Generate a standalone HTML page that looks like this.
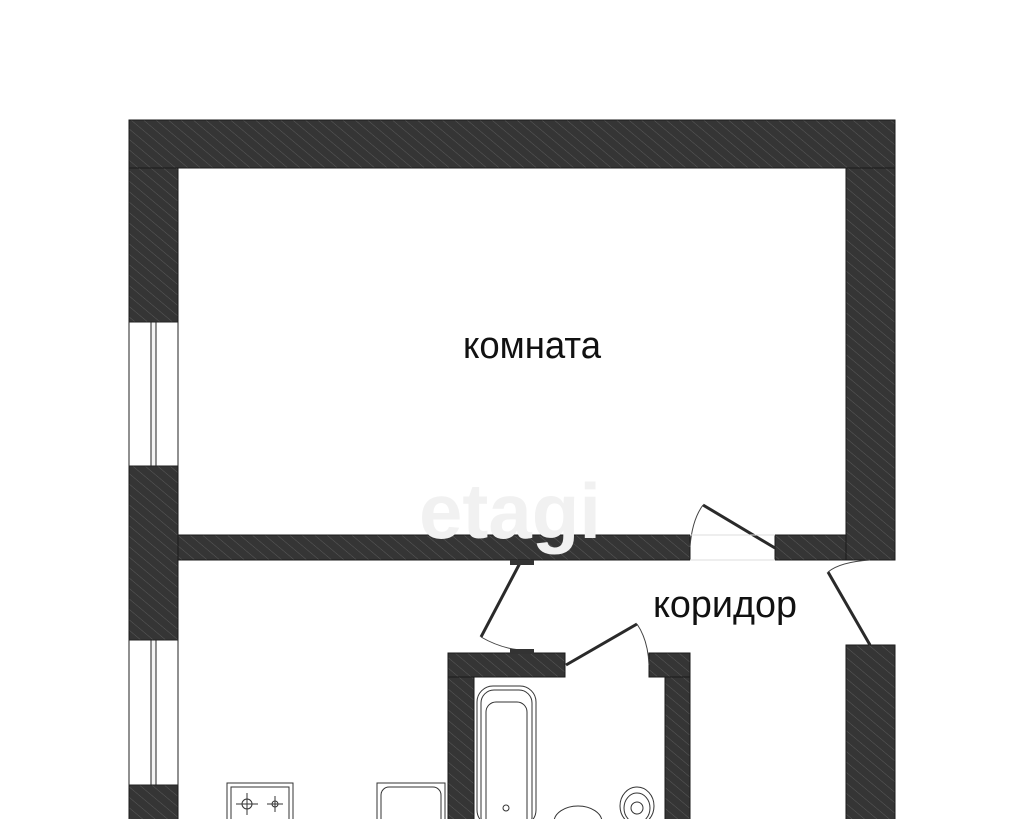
<!DOCTYPE html>
<html><head><meta charset="utf-8"><style>
html,body{margin:0;padding:0;background:#fff;width:1024px;height:819px;overflow:hidden}
svg{display:block}
</style></head><body>
<svg width="1024" height="819" viewBox="0 0 1024 819" xmlns="http://www.w3.org/2000/svg">
<defs>
<pattern id="h" width="8" height="8" patternUnits="userSpaceOnUse" patternTransform="rotate(-50)">
<rect width="8" height="8" fill="#353535"/>
<line x1="0" y1="0" x2="0" y2="8" stroke="#5a5a5a" stroke-width="1"/>
</pattern>
</defs>
<g fill="url(#h)" stroke="#1a1a1a" stroke-width="1">
<rect x="129" y="120" width="766" height="48"/>
<rect x="129" y="168" width="49" height="154"/>
<rect x="129" y="466" width="49" height="174"/>
<rect x="129" y="785" width="49" height="40"/>
<rect x="846" y="168" width="49" height="392"/>
<rect x="846" y="645" width="49" height="180"/>
<rect x="178" y="535" width="512" height="25"/>
<rect x="775" y="535" width="71" height="25"/>
<rect x="448" y="653" width="117" height="24"/>
<rect x="649" y="653" width="41" height="24"/>
<rect x="448" y="677" width="26" height="150"/>
<rect x="665" y="677" width="25" height="150"/>
</g>
<g fill="#fff" stroke="#222" stroke-width="1">
<rect x="129" y="322" width="49" height="144"/>
<rect x="151" y="322" width="5" height="144" fill="#f4f4f4"/>
<rect x="129" y="640" width="49" height="145"/>
<rect x="151" y="640" width="5" height="145" fill="#f4f4f4"/>
</g>
<g stroke="#2a2a2a" stroke-width="3" fill="none">
<line x1="520" y1="563" x2="481" y2="637"/>
<line x1="566" y1="665" x2="637" y2="624"/>
<line x1="703" y1="505" x2="775" y2="548"/>
<line x1="828" y1="572" x2="870" y2="645"/>
</g>
<g stroke="#444" stroke-width="1" fill="none">
<path d="M481 637 Q500 648 520 650"/>
<path d="M637 624 Q648 640 649 665"/>
<path d="M703 505 Q692 520 690 547"/>
<path d="M828 572 Q840 562 870 560"/>
<line x1="690" y1="535" x2="775" y2="535" stroke="#ddd"/>
<line x1="690" y1="560" x2="775" y2="560" stroke="#ddd"/>
</g>
<rect x="510" y="560" width="24" height="5" fill="#333"/>
<rect x="510" y="649" width="24" height="5" fill="#333"/>
<g stroke="#333" fill="none" stroke-width="1">
<rect x="227" y="783" width="66" height="40"/>
<rect x="231" y="787" width="58" height="36"/>
<circle cx="247" cy="804" r="5"/><line x1="236" y1="804" x2="258" y2="804"/><line x1="247" y1="793" x2="247" y2="815"/>
<circle cx="275" cy="804" r="3"/><line x1="267" y1="804" x2="283" y2="804"/><line x1="275" y1="796" x2="275" y2="812"/>
<rect x="377" y="783" width="68" height="40"/>
<rect x="381" y="787" width="60" height="40" rx="8"/>
<rect x="477" y="686" width="59" height="140" rx="16"/>
<rect x="481" y="690" width="51" height="140" rx="13"/>
<rect x="486" y="702" width="41" height="130" rx="10"/>
<circle cx="506" cy="808" r="3"/>
<ellipse cx="578" cy="822" rx="24" ry="16"/>
<ellipse cx="637" cy="806" rx="17" ry="19"/>
<ellipse cx="637" cy="808" rx="13" ry="15"/>
<circle cx="637" cy="808" r="6"/>
</g>
<text x="510" y="538" font-family="Liberation Sans, sans-serif" font-size="78" font-weight="bold" fill="#f1f1f1" text-anchor="middle">etagi</text>
<text x="532" y="358" font-family="Liberation Sans, sans-serif" font-size="38" fill="#111" text-anchor="middle" textLength="138" lengthAdjust="spacingAndGlyphs">комната</text>
<text x="725" y="617" font-family="Liberation Sans, sans-serif" font-size="38" fill="#111" text-anchor="middle" textLength="144" lengthAdjust="spacingAndGlyphs">коридор</text>
</svg>
</body></html>
